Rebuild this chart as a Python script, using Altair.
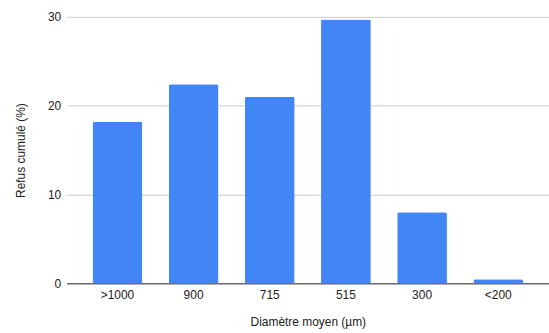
import altair as alt
import pandas as pd

# Cumulative retained fraction per mean particle diameter class
diametres = [">1000", "900", "715", "515", "300", "<200"]
refus = [18.2, 22.4, 21.0, 29.7, 8.0, 0.45]

df = pd.DataFrame({"diametre": diametres, "refus": refus})

FONT = "Liberation Sans"

bars = alt.Chart(df).mark_bar(
    color="#4285F4",
    cornerRadiusTopLeft=2,
    cornerRadiusTopRight=2,
).encode(
    x=alt.X(
        "diametre:N",
        sort=diametres,
        title="Diamètre moyen (µm)",
        scale=alt.Scale(paddingInner=0.347, paddingOuter=0.34),
        axis=alt.Axis(
            labelAngle=0,
            ticks=False,
            domainColor="#333333",
            domainWidth=1,
            labelPadding=6,
            titlePadding=16,
            grid=False,
        ),
    ),
    y=alt.Y(
        "refus:Q",
        title="Refus cumulé (%)",
        scale=alt.Scale(domain=[0, 30], nice=False),
        axis=alt.Axis(
            values=[0, 10, 20, 30],
            ticks=False,
            domain=False,
            gridColor="#cccccc",
            labelPadding=6,
            titlePadding=20,
        ),
    ),
)

chart = bars.properties(
    width=485,
    height=268,
    padding={"left": 67, "top": 16, "right": 0, "bottom": 49},
    autosize=alt.AutoSizeParams(type="none"),
    background="white",
).configure_view(
    stroke=None,
).configure_axis(
    labelFont=FONT,
    titleFont=FONT,
    labelFontSize=12,
    titleFontSize=12,
    labelColor="#222222",
    titleColor="#222222",
    titleFontWeight="normal",
)

chart.save("out.html", embed_options={"renderer": "svg", "actions": False})
